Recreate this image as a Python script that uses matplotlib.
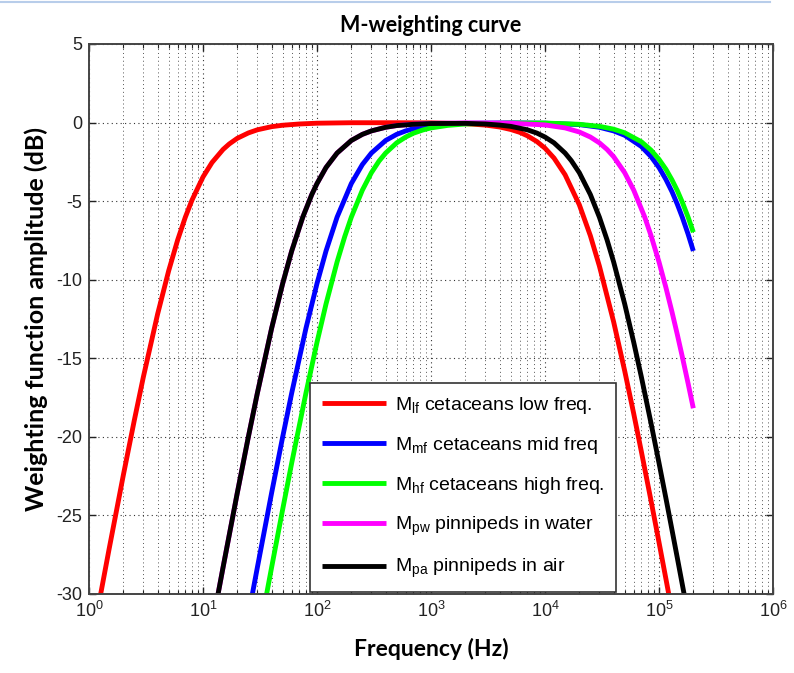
import matplotlib
matplotlib.use("Agg")
import matplotlib.pyplot as plt
from matplotlib.lines import Line2D
from matplotlib.ticker import LogLocator, NullFormatter

# ---- data (frequency in Hz, amplitude in dB) ----
f_lf = [1.2, 1.5, 2, 2.5, 3, 4, 5, 6, 7, 8, 10, 12, 15, 17, 20, 25, 30, 40,
        50, 70, 100, 200, 500, 1000, 2000, 3000, 4000, 5000, 6000, 7000,
        8500, 10000, 12000, 15000, 20000, 25000, 30000, 40000, 50000, 60000,
        70000, 85000, 100000, 115000, 130000]
m_lf = [-30.9, -27.15, -22.44, -18.93, -16.18, -12.18, -9.43, -7.46, -6.02,
        -4.94, -3.46, -2.54, -1.71, -1.36, -1.00, -0.66, -0.46, -0.26, -0.17,
        -0.09, -0.04, -0.01, -0.01, -0.02, -0.07, -0.16, -0.28, -0.44, -0.62,
        -0.84, -1.21, -1.63, -2.26, -3.32, -5.23, -7.20, -9.13, -12.68,
        -15.80, -18.52, -20.93, -24.04, -26.71, -29.04, -31.11]

f_mf = [25, 30, 40, 50, 60, 80, 100, 120, 150, 200, 250, 300, 400, 500, 600,
        700, 850, 1000, 1500, 2000, 5000, 10000, 20000, 30000, 40000, 50000,
        70000, 85000, 100000, 115000, 130000, 145000, 160000, 180000, 200000]
m_mf = [-31.36, -28.30, -23.56, -20.00, -17.21, -13.09, -10.24, -8.17, -6.02,
        -3.88, -2.67, -1.94, -1.14, -0.75, -0.53, -0.39, -0.27, -0.19, -0.09,
        -0.05, -0.02, -0.04, -0.13, -0.30, -0.53, -0.81, -1.52, -2.16, -2.86,
        -3.62, -4.40, -5.21, -6.02, -7.10, -8.17]

f_hf = [33, 40, 50, 60, 80, 100, 120, 150, 175, 200, 250, 300, 350, 400, 500,
        600, 700, 850, 1000, 1400, 2000, 5000, 10000, 20000, 30000, 40000,
        50000, 70000, 85000, 100000, 115000, 130000, 145000, 160000, 180000,
        200000]
m_hf = [-31.53, -28.30, -24.61, -21.66, -17.21, -13.98, -11.54, -8.87, -7.26,
        -6.02, -4.30, -3.19, -2.45, -1.94, -1.29, -0.92, -0.68, -0.47, -0.34,
        -0.18, -0.09, -0.03, -0.03, -0.11, -0.24, -0.42, -0.65, -1.22, -1.75,
        -2.34, -2.97, -3.65, -4.34, -5.06, -6.02, -6.98]

f_pw = [12.5, 15, 20, 25, 30, 40, 50, 60, 75, 90, 100, 120, 150, 200, 250,
        300, 400, 500, 700, 1000, 2000, 5000, 10000, 15000, 20000, 25000,
        30000, 35000, 40000, 50000, 60000, 75000, 85000, 100000, 115000,
        130000, 145000, 160000, 180000, 200000]
m_pw = [-31.36, -28.30, -23.56, -20.00, -17.21, -13.09, -10.24, -8.17, -6.02,
        -4.58, -3.88, -2.86, -1.94, -1.14, -0.75, -0.53, -0.30, -0.19, -0.10,
        -0.05, -0.02, -0.04, -0.15, -0.34, -0.60, -0.92, -1.29, -1.71, -2.17,
        -3.19, -4.30, -6.02, -7.18, -8.87, -10.50, -12.05, -13.51, -14.89,
        -16.60, -18.18]

f_pa = [12.5, 15, 20, 25, 30, 40, 50, 60, 75, 90, 100, 120, 150, 200, 250,
        300, 400, 500, 700, 1000, 2000, 3000, 4000, 5000, 7000, 8500, 10000,
        12000, 15000, 17000, 20000, 25000, 30000, 35000, 40000, 50000, 60000,
        70000, 85000, 100000, 115000, 130000, 145000, 160000, 180000]
m_pa = [-31.36, -28.30, -23.56, -20.00, -17.21, -13.09, -10.24, -8.17, -6.02,
        -4.58, -3.88, -2.86, -1.94, -1.14, -0.75, -0.53, -0.30, -0.19, -0.11,
        -0.06, -0.05, -0.09, -0.16, -0.24, -0.46, -0.67, -0.92, -1.29, -1.94,
        -2.42, -3.19, -4.58, -6.02, -7.46, -8.87, -11.54, -13.98, -16.18,
        -19.11, -21.66, -23.91, -25.92, -27.73, -29.38, -31.36]

labels = [r"M$_\mathregular{lf}$ cetaceans low freq.",
          r"M$_\mathregular{mf}$ cetaceans mid freq",
          r"M$_\mathregular{hf}$ cetaceans high freq.",
          r"M$_\mathregular{pw}$ pinnipeds in water",
          r"M$_\mathregular{pa}$ pinnipeds in air"]
colors = ["#ff0000", "#0000ff", "#00ff00", "#ff00ff", "#000000"]

y_ticks = [5, 0, -5, -10, -15, -20, -25, -30]
x_ticks = [1e0, 1e1, 1e2, 1e3, 1e4, 1e5, 1e6]
x_ticklabels = [r"$10^{%d}$" % i for i in range(7)]

plt.rcParams["font.family"] = ["Liberation Sans", "DejaVu Sans"]
plt.rcParams["mathtext.fontset"] = "custom"
plt.rcParams["mathtext.rm"] = "Liberation Sans"
plt.rcParams["mathtext.it"] = "Liberation Sans"
plt.rcParams["axes.unicode_minus"] = False

fig = plt.figure(figsize=(7.94, 6.73), dpi=100)
ax = fig.add_axes([89 / 794, 1 - 594 / 673, (773 - 89) / 794, (594 - 44) / 673])

series = [(f_lf, m_lf), (f_mf, m_mf), (f_hf, m_hf), (f_pw, m_pw), (f_pa, m_pa)]
for (fx, my), c, lab in zip(series, colors, labels):
    ax.plot(fx, my, color=c, lw=3.5, label=lab, solid_capstyle="butt",
            solid_joinstyle="round")

ax.set_xscale("log")
ax.set_xlim(1, 1e6)
ax.set_ylim(-30, 5)
ax.set_yticks(y_ticks)
ax.set_xticks(x_ticks)
ax.set_xticklabels(x_ticklabels)
ax.xaxis.set_minor_locator(LogLocator(base=10, subs=range(2, 10), numticks=20))
ax.xaxis.set_minor_formatter(NullFormatter())

ax.grid(True, which="major", axis="both", linestyle=(0, (1, 3)), color="#333333", lw=0.8)
ax.grid(True, which="minor", axis="x", linestyle=(0, (1, 3)), color="#555555", lw=0.7)
ax.set_axisbelow(True)

ax.tick_params(which="both", direction="in", top=True, right=True,
               labelsize=13, colors="#222222")
ax.tick_params(which="major", length=5, width=1, pad=5)
ax.tick_params(which="minor", length=3, width=0.8)
for s in ax.spines.values():
    s.set_color("#444444")
    s.set_linewidth(1.4)

lab_font = ["Lato", "DejaVu Sans"]
ax.set_title("M-weighting curve", fontsize=15.5, fontweight="bold",
             family=lab_font, pad=9)
ax.set_xlabel("Frequency (Hz)", fontsize=16.5, fontweight="bold",
              family=lab_font, labelpad=12)
ax.set_ylabel("Weighting function amplitude (dB)", fontsize=18,
              fontweight="bold", family=lab_font, labelpad=6)

leg = ax.legend(loc="lower left", bbox_to_anchor=(221 / 684, 2 / 550),
                borderaxespad=0, frameon=True, fancybox=False,
                edgecolor="#333333", framealpha=1, fontsize=14,
                handlelength=3.3, handletextpad=0.45, labelspacing=0.98,
                borderpad=0.6)
leg.get_frame().set_linewidth(1.2)

fig.add_artist(Line2D([0, 0.97], [0.997, 0.997], color="#b8cdea", lw=1.5,
                      transform=fig.transFigure))

fig.savefig("out.png", dpi=100)
